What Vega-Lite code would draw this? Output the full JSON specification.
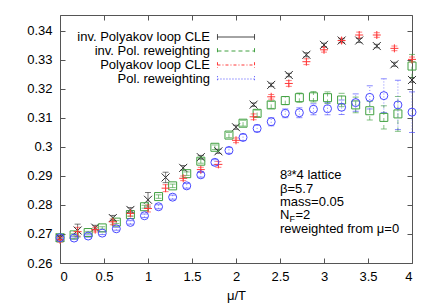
{
  "$schema": "https://vega.github.io/schema/vega-lite/v6.json",
  "width": 352,
  "height": 248,
  "autosize": {"type": "none"},
  "padding": {"left": 60, "top": 15, "right": 24, "bottom": 42},
  "background": "white",
  "config": {
    "font": "Liberation Sans",
    "view": {"stroke": "#555555", "strokeWidth": 1},
    "axis": {"grid": false, "domain": false, "tickColor": "#555555", "tickSize": -5, "labelFontSize": 13, "labelColor": "#000000", "titleFontSize": 13, "titleFontWeight": "normal", "titleColor": "#000000", "labelFont": "Liberation Sans", "titleFont": "Liberation Sans"}
  },
  "datasets": {
    "pts": [
      {"s": "inv. Polyakov loop CLE", "mu": 0.0, "v": 0.2687, "e": 0.0008},
      {"s": "inv. Polyakov loop CLE", "mu": 0.2, "v": 0.2712, "e": 0.0022},
      {"s": "inv. Polyakov loop CLE", "mu": 0.4, "v": 0.2722, "e": 0.0008},
      {"s": "inv. Polyakov loop CLE", "mu": 0.6, "v": 0.2755, "e": 0.0009},
      {"s": "inv. Polyakov loop CLE", "mu": 0.8, "v": 0.2783, "e": 0.0008},
      {"s": "inv. Polyakov loop CLE", "mu": 1.0, "v": 0.2818, "e": 0.0025},
      {"s": "inv. Polyakov loop CLE", "mu": 1.2, "v": 0.2895, "e": 0.0018},
      {"s": "inv. Polyakov loop CLE", "mu": 1.4, "v": 0.2928, "e": 0.0008},
      {"s": "inv. Polyakov loop CLE", "mu": 1.6, "v": 0.2965, "e": 0.0006},
      {"s": "inv. Polyakov loop CLE", "mu": 1.8, "v": 0.2985, "e": 0.0007},
      {"s": "inv. Polyakov loop CLE", "mu": 2.0, "v": 0.3068, "e": 0.0007},
      {"s": "inv. Polyakov loop CLE", "mu": 2.2, "v": 0.3146, "e": 0.0006},
      {"s": "inv. Polyakov loop CLE", "mu": 2.4, "v": 0.3214, "e": 0.0006},
      {"s": "inv. Polyakov loop CLE", "mu": 2.6, "v": 0.3248, "e": 0.0006},
      {"s": "inv. Polyakov loop CLE", "mu": 2.8, "v": 0.3318, "e": 0.0007},
      {"s": "inv. Polyakov loop CLE", "mu": 3.0, "v": 0.3352, "e": 0.0006},
      {"s": "inv. Polyakov loop CLE", "mu": 3.2, "v": 0.3367, "e": 0.0006},
      {"s": "inv. Polyakov loop CLE", "mu": 3.4, "v": 0.3367, "e": 0.0007},
      {"s": "inv. Polyakov loop CLE", "mu": 3.6, "v": 0.3348, "e": 0.0006},
      {"s": "inv. Polyakov loop CLE", "mu": 3.8, "v": 0.3285, "e": 0.0007},
      {"s": "inv. Polyakov loop CLE", "mu": 4.0, "v": 0.3231, "e": 0.0008},
      {"s": "Polyakov loop CLE", "mu": 0.0, "v": 0.2680, "e": 0.0008},
      {"s": "Polyakov loop CLE", "mu": 0.2, "v": 0.2708, "e": 0.0015},
      {"s": "Polyakov loop CLE", "mu": 0.4, "v": 0.2715, "e": 0.0008},
      {"s": "Polyakov loop CLE", "mu": 0.6, "v": 0.2742, "e": 0.0010},
      {"s": "Polyakov loop CLE", "mu": 0.8, "v": 0.2771, "e": 0.0010},
      {"s": "Polyakov loop CLE", "mu": 1.0, "v": 0.2788, "e": 0.0012},
      {"s": "Polyakov loop CLE", "mu": 1.2, "v": 0.2858, "e": 0.0012},
      {"s": "Polyakov loop CLE", "mu": 1.4, "v": 0.2892, "e": 0.0008},
      {"s": "Polyakov loop CLE", "mu": 1.6, "v": 0.2922, "e": 0.0008},
      {"s": "Polyakov loop CLE", "mu": 1.8, "v": 0.2940, "e": 0.0010},
      {"s": "Polyakov loop CLE", "mu": 2.0, "v": 0.3023, "e": 0.0008},
      {"s": "Polyakov loop CLE", "mu": 2.2, "v": 0.3104, "e": 0.0010},
      {"s": "Polyakov loop CLE", "mu": 2.4, "v": 0.3173, "e": 0.0008},
      {"s": "Polyakov loop CLE", "mu": 2.6, "v": 0.3219, "e": 0.0010},
      {"s": "Polyakov loop CLE", "mu": 2.8, "v": 0.3294, "e": 0.0010},
      {"s": "Polyakov loop CLE", "mu": 3.0, "v": 0.3335, "e": 0.0008},
      {"s": "Polyakov loop CLE", "mu": 3.2, "v": 0.3367, "e": 0.0008},
      {"s": "Polyakov loop CLE", "mu": 3.4, "v": 0.3386, "e": 0.0010},
      {"s": "Polyakov loop CLE", "mu": 3.6, "v": 0.3386, "e": 0.0008},
      {"s": "Polyakov loop CLE", "mu": 3.8, "v": 0.3340, "e": 0.0008},
      {"s": "Polyakov loop CLE", "mu": 4.0, "v": 0.3302, "e": 0.0008},
      {"s": "inv. Pol. reweighting", "mu": 0.0, "v": 0.2687, "e": 0.0004},
      {"s": "inv. Pol. reweighting", "mu": 0.16, "v": 0.2697, "e": 0.0004},
      {"s": "inv. Pol. reweighting", "mu": 0.32, "v": 0.2705, "e": 0.0004},
      {"s": "inv. Pol. reweighting", "mu": 0.48, "v": 0.2721, "e": 0.0004},
      {"s": "inv. Pol. reweighting", "mu": 0.64, "v": 0.2741, "e": 0.0005},
      {"s": "inv. Pol. reweighting", "mu": 0.8, "v": 0.2767, "e": 0.0005},
      {"s": "inv. Pol. reweighting", "mu": 0.96, "v": 0.2794, "e": 0.0005},
      {"s": "inv. Pol. reweighting", "mu": 1.12, "v": 0.2829, "e": 0.0006},
      {"s": "inv. Pol. reweighting", "mu": 1.28, "v": 0.2866, "e": 0.0006},
      {"s": "inv. Pol. reweighting", "mu": 1.44, "v": 0.2908, "e": 0.0006},
      {"s": "inv. Pol. reweighting", "mu": 1.6, "v": 0.2951, "e": 0.0007},
      {"s": "inv. Pol. reweighting", "mu": 1.76, "v": 0.2999, "e": 0.0008},
      {"s": "inv. Pol. reweighting", "mu": 1.92, "v": 0.3041, "e": 0.0009},
      {"s": "inv. Pol. reweighting", "mu": 2.08, "v": 0.3082, "e": 0.0010},
      {"s": "inv. Pol. reweighting", "mu": 2.24, "v": 0.3116, "e": 0.0011},
      {"s": "inv. Pol. reweighting", "mu": 2.4, "v": 0.3145, "e": 0.0012},
      {"s": "inv. Pol. reweighting", "mu": 2.56, "v": 0.3160, "e": 0.0014},
      {"s": "inv. Pol. reweighting", "mu": 2.72, "v": 0.3170, "e": 0.0016},
      {"s": "inv. Pol. reweighting", "mu": 2.88, "v": 0.3173, "e": 0.0018},
      {"s": "inv. Pol. reweighting", "mu": 3.04, "v": 0.3170, "e": 0.0020},
      {"s": "inv. Pol. reweighting", "mu": 3.2, "v": 0.3162, "e": 0.0023},
      {"s": "inv. Pol. reweighting", "mu": 3.36, "v": 0.3145, "e": 0.0027},
      {"s": "inv. Pol. reweighting", "mu": 3.52, "v": 0.3125, "e": 0.0032},
      {"s": "inv. Pol. reweighting", "mu": 3.68, "v": 0.3102, "e": 0.0040},
      {"s": "inv. Pol. reweighting", "mu": 3.84, "v": 0.3114, "e": 0.0060},
      {"s": "inv. Pol. reweighting", "mu": 4.0, "v": 0.3279, "e": 0.0040},
      {"s": "Pol. reweighting", "mu": 0.0, "v": 0.2687, "e": 0.0004},
      {"s": "Pol. reweighting", "mu": 0.16, "v": 0.2686, "e": 0.0004},
      {"s": "Pol. reweighting", "mu": 0.32, "v": 0.2693, "e": 0.0004},
      {"s": "Pol. reweighting", "mu": 0.48, "v": 0.2703, "e": 0.0005},
      {"s": "Pol. reweighting", "mu": 0.64, "v": 0.2718, "e": 0.0005},
      {"s": "Pol. reweighting", "mu": 0.8, "v": 0.2740, "e": 0.0006},
      {"s": "Pol. reweighting", "mu": 0.96, "v": 0.2763, "e": 0.0006},
      {"s": "Pol. reweighting", "mu": 1.12, "v": 0.2794, "e": 0.0007},
      {"s": "Pol. reweighting", "mu": 1.28, "v": 0.2827, "e": 0.0007},
      {"s": "Pol. reweighting", "mu": 1.44, "v": 0.2866, "e": 0.0008},
      {"s": "Pol. reweighting", "mu": 1.6, "v": 0.2904, "e": 0.0008},
      {"s": "Pol. reweighting", "mu": 1.76, "v": 0.2947, "e": 0.0009},
      {"s": "Pol. reweighting", "mu": 1.92, "v": 0.2988, "e": 0.0010},
      {"s": "Pol. reweighting", "mu": 2.08, "v": 0.3033, "e": 0.0011},
      {"s": "Pol. reweighting", "mu": 2.24, "v": 0.3064, "e": 0.0012},
      {"s": "Pol. reweighting", "mu": 2.4, "v": 0.3087, "e": 0.0014},
      {"s": "Pol. reweighting", "mu": 2.56, "v": 0.3116, "e": 0.0015},
      {"s": "Pol. reweighting", "mu": 2.72, "v": 0.3118, "e": 0.0017},
      {"s": "Pol. reweighting", "mu": 2.88, "v": 0.3130, "e": 0.0019},
      {"s": "Pol. reweighting", "mu": 3.04, "v": 0.3132, "e": 0.0021},
      {"s": "Pol. reweighting", "mu": 3.2, "v": 0.3137, "e": 0.0025},
      {"s": "Pol. reweighting", "mu": 3.36, "v": 0.3153, "e": 0.0030},
      {"s": "Pol. reweighting", "mu": 3.52, "v": 0.3171, "e": 0.0040},
      {"s": "Pol. reweighting", "mu": 3.68, "v": 0.3177, "e": 0.0058},
      {"s": "Pol. reweighting", "mu": 3.84, "v": 0.3145, "e": 0.0085},
      {"s": "Pol. reweighting", "mu": 4.0, "v": 0.3120, "e": 0.0070}
    ]
  },
  "layer": [
    {
      "data": {"name": "pts"},
      "mark": {"type": "errorbar", "ticks": {"size": 6}, "thickness": 1, "opacity": 0.65},
      "encoding": {
        "x": {"field": "mu", "type": "quantitative", "scale": {"domain": [0, 4], "nice": false, "zero": false},
              "axis": {"orient": "bottom", "values": [0, 0.5, 1, 1.5, 2, 2.5, 3, 3.5, 4], "format": "~g", "title": "μ/T", "labelPadding": 12, "titlePadding": 6}},
        "y": {"field": "v", "type": "quantitative", "scale": {"domain": [0.26, 0.3455], "nice": false, "zero": false},
              "axis": {"orient": "left", "values": [0.26, 0.27, 0.28, 0.29, 0.3, 0.31, 0.32, 0.33, 0.34], "format": "~g", "title": null, "labelPadding": 13}},
        "yError": {"field": "e"},
        "color": {"field": "s", "type": "nominal", "scale": {"domain": ["inv. Polyakov loop CLE", "inv. Pol. reweighting", "Polyakov loop CLE", "Pol. reweighting"], "range": ["#303030", "#40a040", "#ff3838", "#4848ff"]},
          "legend": {
            "title": null, "orient": "none", "legendX": 169, "legendY": 15,
            "labelAlign": "right", "labelOffset": -33, "labelFontSize": 13, "labelColor": "#000000", "labelLimit": 300,
            "symbolSize": 169, "symbolStrokeWidth": 1, "rowPadding": 0,
            "symbolType": "M-2.85,0H2.85M-2.85,-0.43V0.43M2.85,-0.43V0.43", "symbolFillColor": "transparent", "symbolOpacity": 1
          }
        },
        "strokeDash": {"field": "s", "type": "nominal", "scale": {"domain": ["inv. Polyakov loop CLE", "inv. Pol. reweighting", "Polyakov loop CLE", "Pol. reweighting"], "range": [[1, 0], [4, 3], [3, 2, 1, 2], [1, 2]]}, "legend": null}
      }
    },
    {
      "data": {"name": "pts"},
      "transform": [{"filter": "datum.s === 'inv. Polyakov loop CLE'"}],
      "mark": {"type": "point", "filled": false, "size": 64, "strokeWidth": 1, "opacity": 1, "stroke": "#303030", "shape": "M-1,-1L1,1M-1,1L1,-1"},
      "encoding": {"x": {"field": "mu", "type": "quantitative", "axis": null}, "y": {"field": "v", "type": "quantitative", "axis": null}}
    },
    {
      "data": {"name": "pts"},
      "transform": [{"filter": "datum.s === 'inv. Pol. reweighting'"}],
      "mark": {"type": "point", "filled": false, "size": 64, "strokeWidth": 1, "opacity": 1, "stroke": "#40a040", "shape": "square"},
      "encoding": {"x": {"field": "mu", "type": "quantitative", "axis": null}, "y": {"field": "v", "type": "quantitative", "axis": null}}
    },
    {
      "data": {"name": "pts"},
      "transform": [{"filter": "datum.s === 'Polyakov loop CLE'"}],
      "mark": {"type": "point", "filled": false, "size": 64, "strokeWidth": 1, "opacity": 1, "stroke": "#ff3838", "shape": "M-1,0H1M0,-1V1"},
      "encoding": {"x": {"field": "mu", "type": "quantitative", "axis": null}, "y": {"field": "v", "type": "quantitative", "axis": null}}
    },
    {
      "data": {"name": "pts"},
      "transform": [{"filter": "datum.s === 'Pol. reweighting'"}],
      "mark": {"type": "point", "filled": false, "size": 64, "strokeWidth": 1, "opacity": 1, "stroke": "#4848ff", "shape": "circle"},
      "encoding": {"x": {"field": "mu", "type": "quantitative", "axis": null}, "y": {"field": "v", "type": "quantitative", "axis": null}}
    },
    {
      "data": {"name": "pts"},
      "mark": {"type": "point", "opacity": 0},
      "encoding": {
        "x": {"field": "mu", "type": "quantitative", "axis": {"orient": "top", "values": [0, 0.5, 1, 1.5, 2, 2.5, 3, 3.5, 4], "labels": false, "title": null}},
        "y": {"field": "v", "type": "quantitative", "axis": {"orient": "right", "values": [0.26, 0.27, 0.28, 0.29, 0.3, 0.31, 0.32, 0.33, 0.34], "labels": false, "title": null}}
      }
    },
    {
      "data": {"values": [{}]},
      "mark": {"type": "text", "align": "left", "baseline": "alphabetic", "fontSize": 13, "lineHeight": 13.3, "font": "Liberation Sans", "color": "#000000",
               "text": ["8³*4 lattice", "β=5.7", "mass=0.05"]},
      "encoding": {"x": {"datum": 2.5, "axis": null}, "y": {"datum": 0.28879, "axis": null}}
    },
    {
      "data": {"values": [{}]},
      "mark": {"type": "text", "align": "left", "baseline": "alphabetic", "fontSize": 13, "font": "Liberation Sans", "color": "#000000", "text": "N", "dy": 39.9},
      "encoding": {"x": {"datum": 2.5, "axis": null}, "y": {"datum": 0.28879, "axis": null}}
    },
    {
      "data": {"values": [{}]},
      "mark": {"type": "text", "align": "left", "baseline": "alphabetic", "fontSize": 9, "font": "Liberation Sans", "color": "#000000", "text": "F", "dx": 9.5, "dy": 42.9},
      "encoding": {"x": {"datum": 2.5, "axis": null}, "y": {"datum": 0.28879, "axis": null}}
    },
    {
      "data": {"values": [{}]},
      "mark": {"type": "text", "align": "left", "baseline": "alphabetic", "fontSize": 13, "font": "Liberation Sans", "color": "#000000", "text": "=2", "dx": 15.5, "dy": 39.9},
      "encoding": {"x": {"datum": 2.5, "axis": null}, "y": {"datum": 0.28879, "axis": null}}
    },
    {
      "data": {"values": [{}]},
      "mark": {"type": "text", "align": "left", "baseline": "alphabetic", "fontSize": 13, "font": "Liberation Sans", "color": "#000000", "text": "reweighted from μ=0", "dy": 53.2},
      "encoding": {"x": {"datum": 2.5, "axis": null}, "y": {"datum": 0.28879, "axis": null}}
    }
  ],
  "resolve": {"axis": {"x": "independent", "y": "independent"}}
}
